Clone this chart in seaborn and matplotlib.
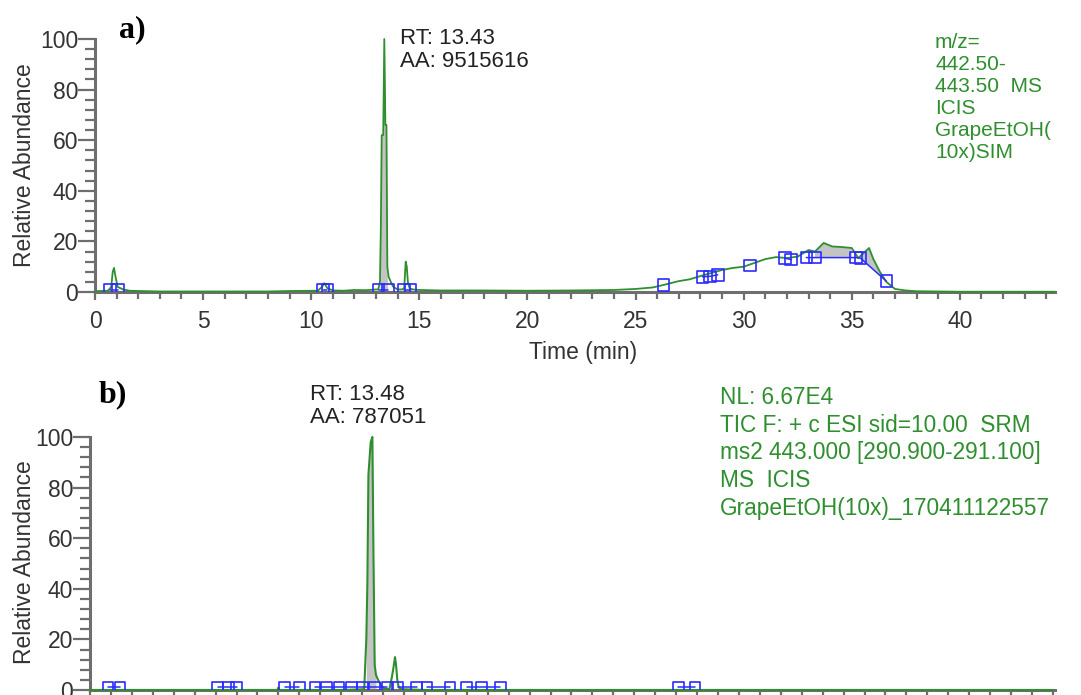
import numpy as np
import pandas as pd
import matplotlib
matplotlib.use("Agg")
import matplotlib.pyplot as plt
import seaborn as sns
from matplotlib.ticker import MultipleLocator

# ---------------- data: panel a (SIM trace) ----------------
a_time = [0.0, 0.6, 0.75, 0.82, 0.88, 0.95, 1.05, 1.3, 1.6, 2.0, 3.0, 5.0, 8.0, 9.1,
          10.3, 10.5, 10.6, 10.75, 11.0, 11.5, 12.0, 12.5, 13.0, 13.1, 13.18, 13.22,
          13.26, 13.33, 13.38, 13.43, 13.48, 13.52, 13.58, 13.68, 13.8, 14.0, 14.2,
          14.3, 14.37, 14.42, 14.47, 14.55, 14.7, 15.0, 16.0, 18.0, 20.0, 22.0, 24.0,
          25.0, 25.8, 26.3, 27.0, 27.5, 28.0, 28.5, 29.0, 29.5, 30.0, 30.5, 31.0,
          31.5, 32.0, 32.5, 33.0, 33.3, 33.7, 34.1, 34.5, 35.0, 35.3, 35.5, 35.8,
          36.0, 36.3, 36.6, 37.0, 37.5, 38.0, 40.0, 44.4]
a_abund = [0.3, 0.5, 2.0, 8.0, 9.5, 6.0, 2.0, 1.0, 0.5, 0.4, 0.2, 0.2, 0.2, 0.4,
           0.5, 2.0, 3.5, 1.5, 0.6, 0.5, 0.8, 0.7, 1.0, 1.0, 4.0, 25.0,
           62.0, 62.0, 100.0, 66.0, 66.0, 10.0, 6.0, 4.0, 2.0, 1.0, 1.0,
           1.5, 12.0, 10.0, 4.0, 1.5, 1.0, 0.8, 0.6, 0.6, 0.5, 0.6, 0.8,
           1.2, 1.8, 2.8, 4.3, 5.0, 6.3, 7.5, 8.7, 9.5, 10.0, 11.5, 13.0,
           13.8, 13.4, 14.0, 16.6, 16.0, 19.4, 18.0, 17.8, 17.4, 13.4, 15.0, 17.4,
           13.0, 8.0, 4.0, 1.2, 0.6, 0.3, 0.1, 0.1]

a_mark_time = [0.7, 1.05, 10.55, 10.75, 13.12, 13.55, 14.3, 14.6, 26.3, 28.1, 28.45,
               28.8, 30.3, 31.9, 32.2, 32.9, 33.3, 35.2, 35.4, 36.6]
a_mark_abund = [0.8, 0.8, 0.8, 0.8, 0.8, 0.8, 0.8, 0.8, 2.8, 6.0, 6.2, 6.8, 10.5,
                13.4, 12.8, 13.6, 13.6, 13.6, 13.4, 4.3]
a_mark_group = [1, 1, 2, 2, 3, 3, 4, 4, 5, 6, 6, 6, 7, 8, 8, 9, 9, 9, 9, 9]

# ---------------- data: panel b (SRM trace) ----------------
b_time = [0.0, 5.0, 8.95, 9.0, 9.05, 12.0, 13.1, 13.2, 13.25, 13.3, 13.41, 13.49,
          13.54, 13.6, 13.66, 13.76, 13.9, 14.05, 14.3, 14.42, 14.5, 14.57, 14.62,
          14.68, 14.75, 14.9, 16.0, 46.0]
b_abund = [0.0, 0.0, 0.0, 1.0, 0.0, 0.0, 0.3, 20.0, 42.0, 85.0, 98.0, 100.0,
           55.0, 10.0, 6.0, 4.0, 2.0, 0.5, 0.3, 5.0, 9.0, 13.0, 10.0,
           4.0, 1.0, 0.3, 0.0, 0.0]

b_mark_time = [0.86, 1.43, 6.1, 6.6, 7.0, 9.3, 10.0, 10.75, 11.3, 11.9, 12.5, 13.0,
               13.6, 14.2, 14.7, 15.6, 16.1, 17.2, 18.0, 18.7, 19.6, 28.1, 28.9]
b_mark_abund = [1.0] * 23
b_mark_group = [1, 1, 2, 2, 2, 3, 3, 4, 4, 4, 4, 4, 4, 4, 5, 5, 6, 6, 7, 7, 7, 8, 8]

x_ticks_a = [0, 5, 10, 15, 20, 25, 30, 35, 40]
y_ticks = [0, 20, 40, 60, 80, 100]

title_a = "a)"
title_b = "b)"
peak_a = "RT: 13.43\nAA: 9515616"
peak_b = "RT: 13.48\nAA: 787051"
info_a = "m/z=\n442.50-\n443.50  MS\nICIS\nGrapeEtOH(\n10x)SIM"
info_b = ("NL: 6.67E4\nTIC F: + c ESI sid=10.00  SRM\nms2 443.000 [290.900-291.100]\n"
          "MS  ICIS\nGrapeEtOH(10x)_170411122557")

# ---------------- style ----------------
sns.set_style("white")
plt.rcParams["font.family"] = ["Liberation Sans", "DejaVu Sans"]

W, H = 1081, 695
fig = plt.figure(figsize=(W / 100, H / 100), dpi=100)


def fx(x):
    return x / W


def fy(y):
    return 1 - y / H


GREEN = "#2f8f2f"
BLUE = "#2b2bff"
SPINE = "#6e6e6e"
TXT = "#333333"
FILL = "#c4c4c4"


def style_axes(ax, xmax, show_xlabels=True):
    ax.set_xlim(0, xmax)
    ax.set_ylim(0, 100)
    for s in ["top", "right"]:
        ax.spines[s].set_visible(False)
    for s in ["left", "bottom"]:
        ax.spines[s].set_color(SPINE)
        ax.spines[s].set_linewidth(2.2)
    ax.set_yticks(y_ticks)
    ax.yaxis.set_minor_locator(MultipleLocator(4))
    ax.set_xticks(x_ticks_a)
    ax.xaxis.set_minor_locator(MultipleLocator(1))
    ax.tick_params(axis="y", which="major", direction="out", length=12, width=1.6,
                   color=SPINE, labelsize=16.5, labelcolor=TXT, pad=0, left=True)
    ax.tick_params(axis="y", which="minor", direction="out", length=7, width=1.6,
                   color=SPINE, left=True)
    ax.tick_params(axis="x", which="major", direction="out", length=6, width=1.6,
                   color=SPINE, labelsize=16.5, labelcolor=TXT, pad=7, bottom=True,
                   labelbottom=show_xlabels)
    ax.tick_params(axis="x", which="minor", direction="out", length=5, width=1.6,
                   color=SPINE, bottom=True)
    ax.set_xlabel("")
    ax.set_ylabel("")
    ax.set_facecolor("white")


# ---------------- panel a ----------------
axA = fig.add_axes([fx(95), fy(292), 960 / W, 253 / H])
dfa = pd.DataFrame({"t": a_time, "y": a_abund})
dma = pd.DataFrame({"t": a_mark_time, "y": a_mark_abund, "g": a_mark_group})

ta = np.array(a_time)
ya = np.array(a_abund)
# shaded integrated areas
m1 = (ta >= 13.12) & (ta <= 13.55)
axA.fill_between(ta[m1], 0.8, ya[m1], color=FILL, lw=0, zorder=1)
seg = dma[dma.g == 9]
base9 = np.interp(ta, seg.t.values, seg.y.values)
m2 = (ta >= 33.3) & (ta <= 36.6)
axA.fill_between(ta[m2], base9[m2], ya[m2], where=ya[m2] >= base9[m2],
                 color=FILL, lw=0, zorder=1)

sns.lineplot(data=dfa, x="t", y="y", ax=axA, color=GREEN, lw=1.3, zorder=3,
             clip_on=False)
sns.lineplot(data=dma, x="t", y="y", units="g", estimator=None, ax=axA,
             color=BLUE, lw=1.1, zorder=4)
sns.scatterplot(data=dma, x="t", y="y", ax=axA, marker="s", s=70,
                facecolor="none", edgecolor=BLUE, linewidth=1.2, zorder=5)
style_axes(axA, 44.4)

# ---------------- panel b ----------------
axB = fig.add_axes([fx(90), fy(690), 965 / W, 253 / H])
dfb = pd.DataFrame({"t": b_time, "y": b_abund})
dmb = pd.DataFrame({"t": b_mark_time, "y": b_mark_abund, "g": b_mark_group})
tb = np.array(b_time)
yb = np.array(b_abund)
m3 = (tb >= 13.2) & (tb <= 13.7)
axB.fill_between(tb[m3], 0, yb[m3], color=FILL, lw=0, zorder=1)
sns.lineplot(data=dmb, x="t", y="y", units="g", estimator=None, ax=axB,
             color=BLUE, lw=1.1, zorder=4)
sns.scatterplot(data=dmb, x="t", y="y", ax=axB, marker="s", s=60,
                facecolor="none", edgecolor=BLUE, linewidth=1.2, zorder=5)
sns.lineplot(data=dfb, x="t", y="y", ax=axB, color=GREEN, lw=1.5, zorder=3,
             clip_on=False)
style_axes(axB, 46.1, show_xlabels=False)

# ---------------- texts ----------------
fig.text(fx(25), fy(165), "Relative Abundance", rotation=90, ha="center",
         va="center", fontsize=16.5, color=TXT)
fig.text(fx(25), fy(562), "Relative Abundance", rotation=90, ha="center",
         va="center", fontsize=16.5, color=TXT)
fig.text(fx(583), fy(352), "Time (min)", ha="center", va="center",
         fontsize=16.5, color=TXT)

fig.text(fx(119), fy(30), title_a, ha="left", va="center", fontsize=23,
         fontweight="bold", family=["Liberation Serif", "DejaVu Serif"], color="black")
fig.text(fx(99), fy(395), title_b, ha="left", va="center", fontsize=23,
         fontweight="bold", family=["Liberation Serif", "DejaVu Serif"], color="black")

fig.text(fx(400), fy(28), peak_a, ha="left", va="top", fontsize=16,
         color="#222222", linespacing=1.1)
fig.text(fx(310), fy(384), peak_b, ha="left", va="top", fontsize=16,
         color="#222222", linespacing=1.15)

fig.text(fx(935), fy(33), info_a, ha="left", va="top", fontsize=15,
         color=GREEN, linespacing=1.2)
fig.text(fx(720), fy(386), info_b, ha="left", va="top", fontsize=16.3,
         color=GREEN, linespacing=1.26)

fig.savefig("out.png", dpi=100, facecolor="white")
